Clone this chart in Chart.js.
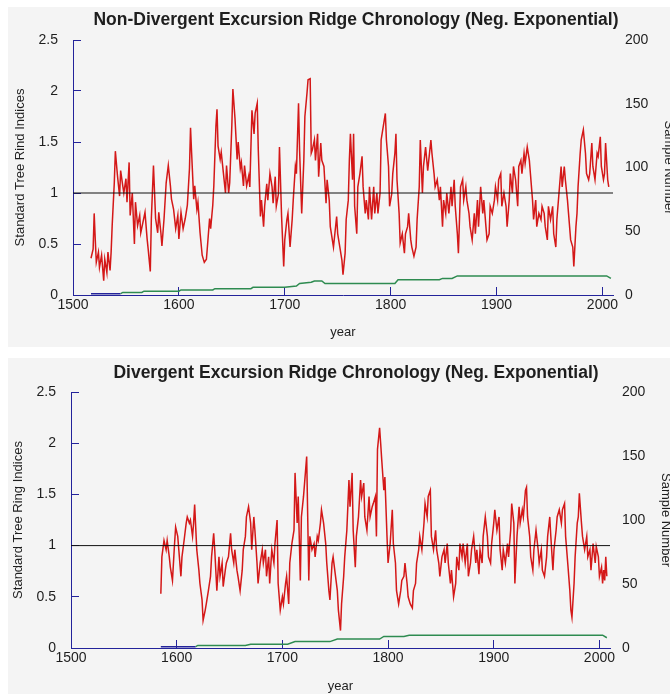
<!DOCTYPE html>
<html>
<head>
<meta charset="utf-8">
<script src="https://cdn.jsdelivr.net/npm/chart.js@4.4.1/dist/chart.umd.min.js"></script>
<style>
  html, body { margin: 0; padding: 0; background: #fff; overflow: hidden; }
  .panel { position: absolute; left: 8px; width: 662px; overflow: hidden; background: #f4f4f4; }
  #p1 { top: 7px; height: 340px; }
  #p2 { top: 358px; height: 336px; }
  canvas { display: block; }
</style>
</head>
<body>
<div class="panel" id="p1"><canvas id="c1" width="696" height="340"></canvas></div>
<div class="panel" id="p2"><canvas id="c2" width="696" height="340"></canvas></div>
<script>
// chronology values (year / standard index)
const topYears = [
  1517,1519,1520,1521,1522,1524,1525,1527,1529,1530,
  1532,1533,1535,1536,1537,1539,1540,1542,1544,1545,
  1547,1548,1550,1551,1553,1554,1556,1558,1559,1561,
  1563,1564,1566,1568,1570,1571,1573,1574,1576,1578,
  1580,1581,1583,1584,1586,1588,1590,1592,1593,1595,
  1597,1599,1600,1602,1604,1606,1608,1610,1611,1612,
  1614,1615,1617,1618,1620,1622,1624,1626,1627,1629,
  1630,1632,1633,1635,1636,1637,1639,1640,1642,1644,
  1645,1647,1648,1650,1651,1653,1655,1656,1658,1659,
  1661,1662,1664,1666,1667,1669,1671,1672,1674,1675,
  1677,1678,1680,1681,1683,1684,1686,1688,1689,1691,
  1692,1694,1695,1697,1699,1700,1702,1703,1705,1707,
  1708,1710,1711,1713,1714,1716,1718,1719,1721,1722,
  1724,1725,1726,1728,1729,1731,1732,1734,1735,1737,
  1739,1740,1742,1743,1746,1749,1750,1752,1754,1755,
  1757,1758,1760,1761,1762,1764,1765,1766,1768,1769,
  1771,1773,1774,1776,1777,1779,1780,1782,1784,1785,
  1787,1788,1790,1791,1793,1795,1796,1798,1799,1801,
  1802,1804,1805,1806,1808,1809,1811,1813,1814,1816,
  1817,1819,1820,1822,1824,1825,1827,1828,1830,1831,
  1833,1835,1836,1838,1839,1841,1842,1844,1846,1847,
  1849,1850,1852,1853,1855,1857,1858,1860,1861,1863,
  1864,1866,1868,1869,1871,1872,1874,1875,1877,1879,
  1880,1882,1883,1885,1887,1888,1890,1891,1893,1894,
  1896,1898,1899,1901,1902,1904,1905,1907,1909,1910,
  1912,1913,1915,1916,1918,1920,1921,1923,1924,1926,
  1927,1929,1931,1932,1934,1935,1937,1938,1940,1942,
  1943,1945,1946,1948,1949,1951,1953,1954,1956,1957,
  1959,1961,1962,1964,1965,1967,1968,1970,1972,1973,
  1975,1976,1977,1979,1980,1982,1984,1985,1987,1988,
  1990,1991,1993,1995,1996,1998,1999,2001,2002,2003,
  2005,2006
];
const topValues = [
  0.36,0.45,0.80,0.55,0.32,0.42,0.27,0.39,0.14,0.35,
  0.22,0.42,0.24,0.42,0.68,1.10,1.41,1.17,0.97,1.22,
  1.07,1.00,1.14,0.91,1.30,0.78,1.00,0.50,0.91,0.68,
  0.78,0.61,0.71,0.81,0.55,0.45,0.23,0.75,1.27,0.75,
  0.61,0.81,0.61,0.48,0.75,1.10,1.27,1.07,0.94,0.84,
  0.65,0.78,0.55,0.81,0.65,0.75,0.88,1.24,1.64,1.40,
  0.94,1.07,0.84,0.91,0.61,0.39,0.32,0.35,0.48,0.75,
  0.65,0.88,1.07,1.66,1.82,1.46,1.33,1.40,1.20,1.00,
  1.27,1.00,1.10,1.66,2.02,1.73,1.33,1.50,1.24,1.30,
  1.07,1.27,1.07,1.17,1.06,1.81,1.58,1.78,1.88,1.42,
  0.77,0.93,0.67,0.87,1.09,0.93,1.19,1.06,0.90,1.16,
  0.87,0.99,1.45,0.77,0.28,0.54,0.74,0.80,0.47,0.74,
  0.93,1.26,1.19,1.88,1.42,0.80,1.32,1.75,1.98,2.11,
  2.12,1.39,1.42,1.52,1.32,1.58,1.16,1.49,1.32,1.26,
  0.90,1.13,0.93,0.67,0.47,0.77,0.60,0.47,0.34,0.20,
  0.41,0.74,0.93,1.32,1.58,1.13,1.58,0.87,0.60,1.06,
  1.19,1.36,1.06,0.80,0.93,0.74,1.06,0.74,1.06,0.80,
  1.00,0.80,1.00,1.52,1.65,1.78,1.52,1.26,0.87,0.99,
  1.19,1.39,1.58,1.13,0.80,0.51,0.60,0.41,0.60,0.67,
  0.80,0.54,0.47,0.38,0.47,0.74,1.06,1.52,1.00,1.26,
  1.45,1.22,1.32,1.52,1.39,1.19,1.06,1.13,0.93,1.06,
  0.67,0.93,0.80,1.00,0.80,1.06,0.87,1.13,0.87,0.60,
  0.41,1.06,1.13,0.93,1.06,0.93,0.80,0.67,0.54,0.80,
  0.60,0.93,0.67,1.06,0.80,0.93,0.67,0.54,0.60,0.87,
  0.80,0.93,1.06,0.93,1.13,1.19,0.87,1.00,0.87,0.67,
  0.93,1.19,1.00,1.26,1.13,0.87,1.26,1.32,1.19,1.39,
  1.29,1.45,1.32,1.19,0.93,0.74,0.93,0.67,0.80,0.74,
  0.87,0.80,0.67,0.54,0.87,0.74,0.87,0.60,0.47,0.74,
  1.00,1.26,1.06,1.26,1.13,0.93,0.80,0.54,0.47,0.28,
  0.67,0.80,1.06,1.39,1.52,1.62,1.39,1.19,1.13,1.19,
  1.49,1.26,1.13,1.39,1.36,1.55,1.26,1.13,1.19,1.49,
  1.13,1.06
];
const topSampleYears = [1517,1545,1547,1565,1567,1600,1602,1632,1634,1668,1670,1700,1711,1714,1725,1728,1735,1738,1804,1807,1846,1849,1858,1863,2004,2008];
const topSampleCounts = [1,1,2,2,3,3,4,4,5,5,6,6,7,9,10,11,11,9,9,12,12,13,13,15,15,13];

const bottomYears = [
  1585,1586,1588,1590,1591,1593,1594,1596,1598,1599,
  1601,1602,1604,1605,1607,1609,1610,1612,1613,1615,
  1616,1617,1619,1621,1622,1624,1625,1627,1628,1630,
  1632,1633,1635,1636,1638,1640,1641,1643,1644,1646,
  1647,1649,1651,1652,1654,1655,1657,1658,1660,1662,
  1663,1665,1666,1668,1670,1671,1673,1674,1676,1677,
  1679,1681,1682,1684,1685,1687,1688,1690,1692,1693,
  1695,1696,1698,1700,1701,1703,1704,1706,1707,1709,
  1711,1712,1714,1715,1717,1718,1720,1722,1723,1725,
  1726,1728,1730,1731,1733,1734,1736,1737,1739,1741,
  1742,1744,1745,1747,1748,1752,1753,1755,1756,1758,
  1759,1761,1763,1764,1766,1767,1769,1770,1772,1774,
  1775,1777,1778,1780,1782,1783,1785,1786,1788,1789,
  1790,1792,1793,1794,1796,1797,1799,1800,1802,1804,
  1805,1807,1808,1810,1812,1813,1815,1816,1818,1819,
  1821,1823,1824,1826,1827,1829,1830,1832,1834,1835,
  1837,1838,1840,1841,1843,1845,1846,1848,1849,1851,
  1853,1854,1856,1857,1859,1860,1862,1864,1865,1867,
  1868,1870,1871,1873,1875,1876,1878,1879,1881,1883,
  1884,1886,1887,1889,1890,1892,1894,1895,1897,1898,
  1900,1901,1903,1905,1906,1908,1909,1911,1913,1914,
  1916,1917,1919,1920,1922,1924,1925,1927,1928,1930,
  1931,1932,1934,1935,1937,1938,1940,1942,1943,1945,
  1946,1948,1950,1951,1953,1954,1956,1957,1959,1960,
  1962,1964,1965,1967,1968,1970,1972,1973,1974,1976,
  1977,1979,1980,1981,1983,1984,1986,1988,1989,1991,
  1992,1994,1996,1997,1999,2000,2002,2003,2004,2005,
  2006,2007
];
const bottomValues = [
  0.53,0.89,1.05,0.96,1.05,0.89,0.79,0.66,1.02,1.18,
  1.09,0.96,0.70,0.89,1.05,1.22,1.28,1.22,1.25,1.09,
  1.22,1.40,0.96,0.76,0.63,0.47,0.27,0.37,0.43,0.56,
  0.70,0.89,1.12,0.96,0.56,0.89,0.70,0.83,0.60,0.76,
  0.83,0.89,1.12,0.96,0.83,0.96,0.76,0.70,0.56,0.76,
  0.96,1.09,1.28,1.38,1.22,0.96,1.28,1.15,0.83,0.63,
  0.83,0.96,0.83,0.96,0.70,0.89,0.63,0.96,0.83,1.02,
  1.25,0.63,0.37,0.50,0.43,0.63,0.70,0.43,0.83,1.02,
  1.15,1.71,1.22,1.48,0.66,1.28,1.48,1.74,1.87,0.66,
  1.09,0.96,1.02,0.89,1.09,1.05,1.22,1.35,1.22,1.02,
  0.83,0.56,0.47,0.83,0.89,0.56,0.37,0.17,0.43,0.70,
  0.89,1.15,1.64,1.38,1.71,1.15,0.79,1.09,1.28,1.64,
  1.48,1.61,1.28,1.15,1.48,1.28,1.38,1.41,1.48,1.09,
  1.94,2.15,2.00,1.84,1.54,1.67,1.09,0.83,1.02,1.35,
  1.02,0.83,0.56,0.43,0.56,0.66,0.70,0.83,0.63,0.50,
  0.43,0.39,0.56,0.63,0.83,0.96,1.09,0.96,1.22,1.41,
  1.28,1.48,1.54,1.09,0.96,1.15,0.96,0.83,0.70,0.89,
  0.96,0.83,1.02,0.83,0.63,0.76,0.50,0.63,0.89,0.76,
  1.02,0.89,1.02,0.83,1.02,0.70,0.83,0.96,1.09,0.83,
  0.96,0.72,0.96,0.83,1.09,1.28,1.09,0.89,0.83,1.02,
  1.22,1.35,1.15,1.28,0.96,0.76,0.96,0.83,1.02,0.89,
  1.15,1.41,1.22,0.63,1.09,1.38,1.22,1.35,1.28,1.54,
  1.57,1.28,1.09,0.89,0.76,0.96,1.15,0.96,0.83,0.96,
  0.76,0.70,0.89,1.09,1.28,1.09,0.76,0.96,1.15,1.28,
  1.35,1.22,1.35,1.41,1.09,0.83,0.56,0.37,0.30,0.63,
  0.89,1.22,1.28,1.51,1.22,1.09,0.96,1.09,0.89,0.96,
  0.76,1.02,0.83,0.99,0.89,0.70,0.79,0.63,0.76,0.66,
  0.89,0.70
];
const bottomSampleYears = [1585,1618,1620,1665,1670,1705,1712,1745,1752,1792,1796,1815,1820,2003,2007];
const bottomSampleCounts = [1,1,2,2,3,3,5,5,7,7,9,9,10,10,8];

const xMin = 1500, xMax = 2010;
const yearTicks = [1500, 1600, 1700, 1800, 1900, 2000];
const refLevel = 1;
const indexTicks = [0, 0.5, 1, 1.5, 2, 2.5];
const sampleTicks = [0, 50, 100, 150, 200];

const axisBlue = '#23239a';
const textCol = '#1e1e1e';
const family = "'Liberation Sans', Arial, sans-serif";
const H = 340, W = 696;

function points(xs, ys) {
  return xs.map((x, i) => ({ x: x, y: ys[i] }));
}

function makeChart(id, titleText, yTitle, years, values, sYears, sCounts, box) {
  new Chart(document.getElementById(id), {
    type: 'line',
    data: {
      datasets: [
        { data: [{ x: xMin, y: refLevel }, { x: xMax, y: refLevel }], borderColor: '#111', borderWidth: 1,
          pointRadius: 0, yAxisID: 'y', order: 0 },
        { data: points(years, values), borderColor: '#d41818', borderWidth: 1.5,
          pointRadius: 0, yAxisID: 'y', order: 1 },
        { data: points(sYears, sCounts), borderColor: '#2e8b50', borderWidth: 1.5,
          pointRadius: 0, yAxisID: 'y2', order: 2,
          segment: { borderColor: c => (c.p0.parsed.y <= 1 && c.p1.parsed.y <= 1) ? axisBlue : undefined } }
      ]
    },
    options: {
      responsive: false,
      animation: false,
      layout: { padding: 0 },
      plugins: {
        legend: { display: false },
        tooltip: { enabled: false },
        title: {
          display: true, text: titleText, color: textCol,
          font: { family: family, size: 17.5, weight: 'bold' },
          padding: { top: box.titleTop, bottom: box.titleBottom }
        }
      },
      scales: {
        x: {
          type: 'linear', min: xMin, max: xMax,
          afterFit: s => { s.height = H - box.bottom; },
          afterBuildTicks: s => { s.ticks = yearTicks.map(v => ({ value: v })); },
          border: { color: axisBlue, width: 1 },
          grid: { drawOnChartArea: false, color: axisBlue, tickLength: -8 },
          ticks: { padding: 10, maxRotation: 0, autoSkip: false, color: textCol,
                   font: { family: family, size: 14 }, callback: v => String(v) },
          title: { display: true, text: 'year', color: textCol, font: { family: family, size: 13 },
                   padding: { top: 0, bottom: box.yearBottom } }
        },
        y: {
          position: 'left', min: indexTicks[0], max: indexTicks[indexTicks.length - 1],
          afterFit: s => { s.width = box.left; },
          afterBuildTicks: s => { s.ticks = indexTicks.map(v => ({ value: v })); },
          border: { color: axisBlue, width: 1 },
          grid: { drawOnChartArea: false, color: axisBlue, tickLength: -8 },
          ticks: { padding: 23, color: textCol, font: { family: family, size: 14 }, callback: v => String(v) },
          title: { display: true, text: yTitle, color: textCol, font: { family: family, size: 13 },
                   padding: { top: box.leftTitle, bottom: 0 } }
        },
        y2: {
          position: 'right', min: sampleTicks[0], max: sampleTicks[sampleTicks.length - 1],
          afterFit: s => { s.width = W - box.right; },
          afterBuildTicks: s => { s.ticks = sampleTicks.map(v => ({ value: v })); },
          border: { display: false },
          grid: { display: false, drawTicks: false },
          ticks: { padding: 12, color: textCol, font: { family: family, size: 14 }, callback: v => String(v) },
          title: { display: true, text: 'Sample Number', color: textCol, font: { family: family, size: 13 },
                   padding: { top: box.rightTitle, bottom: 0 } }
        }
      }
    }
  });
}

makeChart('c1', 'Non-Divergent Excursion Ridge Chronology (Neg. Exponential)', 'Standard Tree Rind Indices',
  topYears, topValues, topSampleYears, topSampleCounts,
  { left: 65, right: 605, bottom: 288, titleTop: 2.5, titleBottom: 9.5, yearBottom: 7, leftTitle: 5, rightTitle: 28 });

makeChart('c2', 'Divergent Excursion Ridge Chronology (Neg. Exponential)', 'Standard Tree Ring Indices',
  bottomYears, bottomValues, bottomSampleYears, bottomSampleCounts,
  { left: 63, right: 602, bottom: 290, titleTop: 4.5, titleBottom: 8.5, yearBottom: 4, leftTitle: 3, rightTitle: 31 });
</script>
</body>
</html>
